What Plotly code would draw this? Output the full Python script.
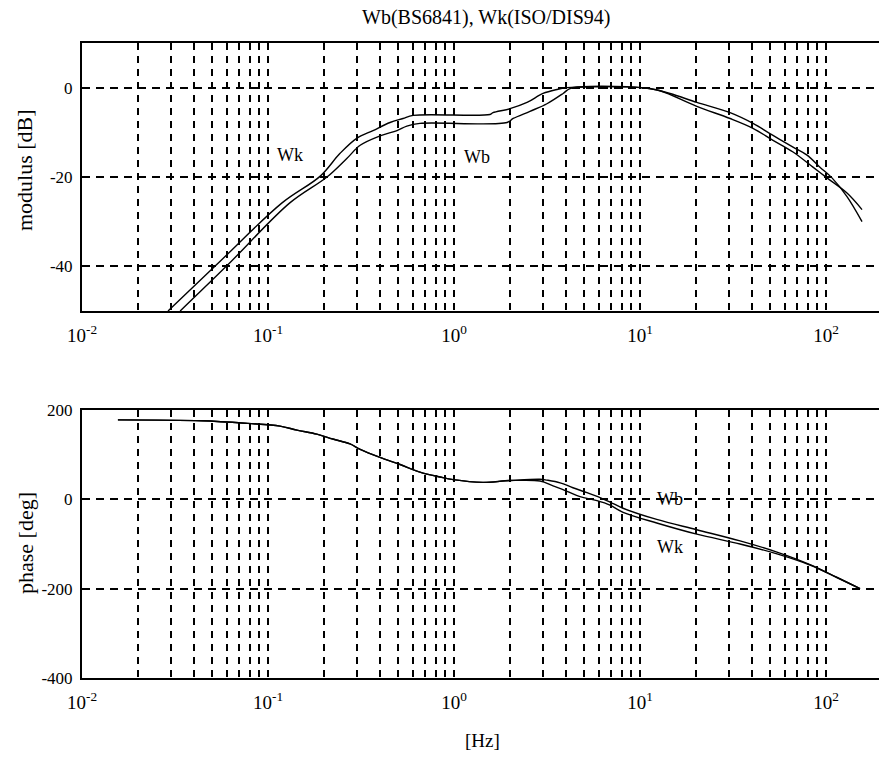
import plotly.graph_objects as go

# ---------------- data ----------------
mag_wk_f = [0.029, 0.053, 0.119, 0.191, 0.244, 0.301, 0.367, 0.453, 0.532, 0.603,
            1.56, 1.62, 2.0, 2.47, 3.01, 3.58, 4.05, 5.38, 8.51, 11.3, 14.5, 20.2,
            30.5, 40.5, 51.9, 66.5, 79.1, 92.8, 107.7, 129.7, 156.2]
mag_wk_db = [-50, -39.6, -25.8, -19.8, -14.7, -11.3, -9.6, -7.8, -6.9, -6.2,
             -6.0, -5.6, -4.7, -3.3, -1.3, -0.4, 0.0, 0.3, 0.2, -0.2, -1.3, -3.3,
             -5.6, -8.0, -10.7, -13.3, -15.1, -17.8, -20.2, -24.4, -30.0]

mag_wb_f = [0.0337, 0.061, 0.131, 0.2075, 0.266, 0.313, 0.400, 0.494, 0.558, 0.656,
            1.93, 2.08, 2.56, 3.16, 3.86, 4.2, 6.1, 10.0, 12.8, 20.2, 30.5, 40.5,
            51.9, 66.5, 85.1, 101.2, 129.7, 156.2]
mag_wb_db = [-50, -39.6, -25.8, -20.0, -15.8, -12.9, -10.8, -9.6, -8.6, -8.0,
             -7.8, -6.9, -5.3, -3.6, -1.3, -0.2, 0.2, 0.0, -0.7, -4.2, -6.9, -9.1,
             -11.8, -14.4, -17.8, -20.2, -23.6, -27.3]

ph_wb_f = [0.0156, 0.044, 0.078, 0.116, 0.143, 0.183, 0.223, 0.276, 0.313, 0.400,
           0.513, 0.656, 0.841, 0.99, 1.43, 2.0, 2.90, 3.16, 3.72, 4.36, 5.19, 6.1,
           6.9, 8.11, 12.3, 20.2, 34.5, 54.5, 82.0, 114.6, 152.4]
ph_wb_deg = [178, 176, 170, 164, 155, 146, 135, 124, 112, 94,
             78, 61, 50, 44, 38, 42, 45, 43, 37, 26, 15, 4,
             -6, -20, -45, -68, -93, -118, -146, -175, -200]

ph_wk_f = [0.0156, 0.044, 0.078, 0.116, 0.143, 0.183, 0.223, 0.276, 0.313, 0.400,
           0.513, 0.656, 0.841, 0.99, 1.43, 2.0, 2.90, 3.41, 4.05, 4.76, 5.87,
           6.9, 8.11, 12.3, 20.2, 34.5, 54.5, 82.0, 114.6, 152.4]
ph_wk_deg = [178, 176, 170, 164, 155, 146, 135, 124, 112, 94,
             78, 61, 50, 44, 38, 42, 41, 30, 18, 6, -3,
             -13, -29, -53, -78, -100, -122, -147, -175, -200]

decades = [-2, -1, 0, 1, 2]
mag_ticks = [-40, -20, 0]
phase_ticks = [-400, -200, 0, 200]
title_text = "Wb(BS6841), Wk(ISO/DIS94)"

# ---------------- figure ----------------
W, H = 879, 758
FONT = "Liberation Serif"

xtickvals, xticktext = [], []
for d in decades:
    for m in range(1, 10):
        v = m * 10 ** d
        if v > 195:
            break
        xtickvals.append(v)
        xticktext.append(f"10<sup>{d}</sup>" if m == 1 else "")

def ypx(p):
    return 1 - p / H

fig = go.Figure()
line = dict(color="black", width=1.4)
fig.add_trace(go.Scatter(x=mag_wk_f, y=mag_wk_db, mode="lines", line=line,
                         xaxis="x", yaxis="y", name="Wk", line_shape="spline"))
fig.add_trace(go.Scatter(x=mag_wb_f, y=mag_wb_db, mode="lines", line=line,
                         xaxis="x", yaxis="y", name="Wb", line_shape="spline"))
fig.add_trace(go.Scatter(x=ph_wb_f, y=ph_wb_deg, mode="lines", line=line,
                         xaxis="x2", yaxis="y2", name="Wb", line_shape="spline"))
fig.add_trace(go.Scatter(x=ph_wk_f, y=ph_wk_deg, mode="lines", line=line,
                         xaxis="x2", yaxis="y2", name="Wk", line_shape="spline"))

xr = [-2, (W - 82) / 186 - 2]
xcommon = dict(type="log", range=xr, domain=[82 / W, 1], automargin=False,
               tickvals=xtickvals, ticktext=xticktext,
               showgrid=True, gridcolor="black", gridwidth=1.5, griddash="7px,6px",
               showline=True, linecolor="black", linewidth=2, mirror=True,
               ticks="", ticklabelstandoff=6,
               tickfont=dict(family=FONT, size=19, color="black"))
ycommon = dict(showgrid=True, gridcolor="black", gridwidth=1.5, griddash="8px,6px",
               zeroline=False, showline=True, linecolor="black", linewidth=2,
               mirror=False, ticks="", automargin=False, ticklabelstandoff=4,
               tickfont=dict(family=FONT, size=17, color="black"))

fig.update_layout(
    width=W, height=H,
    margin=dict(l=0, r=0, t=0, b=0),
    paper_bgcolor="white", plot_bgcolor="white",
    showlegend=False,
    font=dict(family=FONT, color="black"),
    xaxis=dict(**xcommon, anchor="y"),
    yaxis=dict(**ycommon, domain=[ypx(311), ypx(43)], range=[-50, 10],
               tickvals=mag_ticks, ticktext=[str(v) for v in mag_ticks], anchor="x"),
    xaxis2=dict(**xcommon, anchor="y2"),
    yaxis2=dict(**ycommon, domain=[ypx(678), ypx(410)], range=[-400, 200],
                tickvals=phase_ticks, ticktext=[str(v) for v in phase_ticks],
                anchor="x2"),
)

annots = [
    dict(text=title_text, xref="paper", yref="paper", x=486 / W, y=ypx(17),
         font=dict(size=20)),
    dict(text="modulus [dB]", xref="paper", yref="paper", x=25 / W, y=ypx(170),
         textangle=-90, font=dict(size=22)),
    dict(text="phase [deg]", xref="paper", yref="paper", x=25 / W, y=ypx(543),
         textangle=-90, font=dict(size=22)),
    dict(text="[Hz]", xref="paper", yref="paper", x=483 / W, y=ypx(740),
         font=dict(size=19)),
    dict(text="Wk", xref="x", yref="y", x=(290 - 82) / 186 - 2, y=-15.1,
         font=dict(size=18)),
    dict(text="Wb", xref="x", yref="y", x=(477 - 82) / 186 - 2, y=-15.6,
         font=dict(size=18)),
    dict(text="Wb", xref="x2", yref="y2", x=(670 - 82) / 186 - 2, y=0,
         font=dict(size=18)),
    dict(text="Wk", xref="x2", yref="y2", x=(670 - 82) / 186 - 2, y=-106,
         font=dict(size=18)),
]
for a in annots:
    a["font"]["family"] = FONT
    a["font"]["color"] = "black"
    a["showarrow"] = False
    a["xanchor"] = "center"
    a["yanchor"] = "middle"
fig.update_layout(annotations=annots)

fig.write_html("out.html")
